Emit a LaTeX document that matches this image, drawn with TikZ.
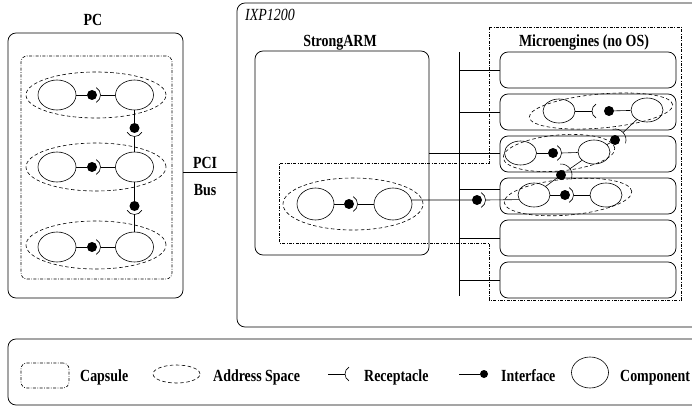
\documentclass[tikz,border=0pt]{standalone}
\usepackage{fontspec}
\setmainfont{Liberation Serif}[FakeStretch=0.82]
\usetikzlibrary{shapes.geometric,calc}
\newcommand\recarc[4]{%
  \draw[conn] ($(#1)+({#2-60}:#3)$) .. controls ($(#1)+({#2-60}:#3)+({#2+30}:#4)$) and ($(#1)+({#2+60}:#3)+({#2-30}:#4)$) .. ($(#1)+({#2+60}:#3)$);}
\begin{document}
\begin{tikzpicture}[x=1pt,y=-1pt,
  rbox/.style={draw, rounded corners=8pt, line width=0.75pt, inner sep=0},
  comp/.style={draw, ellipse, inner sep=0, line width=0.6pt, minimum width=38pt, minimum height=30pt},
  mcomp/.style={draw, ellipse, inner sep=0, line width=0.6pt, minimum width=32pt, minimum height=24pt},
  aspace/.style={draw, ellipse, inner sep=0, dash pattern=on 3.5pt off 2.5pt, line width=0.6pt},
  capsule/.style={draw, dash pattern=on 3pt off 1.5pt on 0.7pt off 1.5pt, line width=0.6pt},
  ball/.style={circle, fill, inner sep=0, minimum size=10pt},
  conn/.style={line width=0.6pt},
  lbl/.style={font=\fontsize{17}{20}\selectfont\bfseries, inner sep=0}]
\useasboundingbox (0,0) rectangle (692,409);
\clip (0,0) rectangle (692,409);

% ---------------- PC ----------------
\node[rbox, minimum width=175pt, minimum height=265pt] (pc) at (95.5,165.5) {};
\node[lbl, anchor=base] (pclbl) at (93,26) {PC};
\node[capsule, rounded corners=6pt, minimum width=151pt, minimum height=223pt, inner sep=0] (pccap) at (96.5,167.5) {};
\node[aspace, minimum width=140pt, minimum height=46pt] (pas1) at (96,95) {};
\node[aspace, minimum width=140pt, minimum height=48pt] (pas2) at (96,167) {};
\node[aspace, minimum width=140pt, minimum height=48pt] (pas3) at (96,245) {};
\node[comp] (c11) at (57,95) {};
\node[comp] (c12) at (134.5,95) {};
\node[comp] (c21) at (57,167) {};
\node[comp] (c22) at (134.5,167) {};
\node[comp] (c31) at (57,247) {};
\node[comp] (c32) at (134.5,247) {};
% row connections
\node[ball] (d1) at (92,95) {};
\draw[conn] (c11) -- (d1);
\recarc{d1}{0}{8.5}{6.55}
\coordinate (r1) at ($(d1)+(0:8.5)$);
\draw[conn] (r1) -- (c12);
\node[ball] (d2) at (92,167) {};
\draw[conn] (c21) -- (d2);
\recarc{d2}{0}{8.5}{6.55}
\coordinate (r2) at ($(d2)+(0:8.5)$);
\draw[conn] (r2) -- (c22);
\node[ball] (d3) at (92,247) {};
\draw[conn] (c31) -- (d3);
\recarc{d3}{0}{8.5}{6.55}
\coordinate (r3) at ($(d3)+(0:8.5)$);
\draw[conn] (r3) -- (c32);
% vertical connections
\node[ball] (dv1) at (134.5,128) {};
\draw[conn] (c12) -- (dv1);
\recarc{dv1}{90}{8.5}{6.55}
\coordinate (rv1) at ($(dv1)+(90:8.5)$);
\draw[conn] (rv1) -- (c22);
\node[ball] (dv2) at (134.5,206) {};
\draw[conn] (c22) -- (dv2);
\recarc{dv2}{90}{8.5}{6.55}
\coordinate (rv2) at ($(dv2)+(90:8.5)$);
\draw[conn] (rv2) -- (c32);

% ---------------- IXP1200 ----------------
\node[rbox, minimum width=500pt, minimum height=324pt] (ixp) at (487,165) {};
\node[font=\fontsize{17}{20}\selectfont\itshape, anchor=base west, inner sep=0] (ixplbl) at (245,21) {IXP1200};
% PCI bus
\coordinate (pcib) at ($(pc.east)+(0,6.5)$);
\draw[conn] (pcib) -- (pcib -| ixp.west);
\node[lbl, anchor=base] (pcilbl) at (205,168) {PCI};
\node[lbl, anchor=base] (buslbl) at (205,195) {Bus};

% capsule (microengines + part of StrongARM)
\draw[capsule] (489,27) -- (681,27) -- (681,300) -- (489,300) -- (489,243) -- (279,243) -- (279,163) -- (489,163) -- cycle;

% StrongARM
\node[rbox, minimum width=174pt, minimum height=204pt] (sa) at (342,153) {};
\node[lbl, anchor=base] (salbl) at (340,47) {StrongARM};
\node[aspace, minimum width=140pt, minimum height=52pt] (sas) at (353,204) {};
\node[comp, minimum width=37pt, minimum height=32pt] (sL) at (315.5,204) {};
\node[comp, minimum width=38pt, minimum height=32pt] (sR) at (393,204) {};
\node[ball] (ds1) at (349,204) {};
\draw[conn] (sL) -- (ds1);
\recarc{ds1}{0}{8.5}{6.55}
\coordinate (rs1) at ($(ds1)+(0:8.5)$);
\draw[conn] (rs1) -- (sR);

% Microengines
\node[lbl, anchor=base] (melbl) at (584,47) {Microengines (no OS)};
\node[rbox, minimum width=176pt, minimum height=36pt] (me1) at (588,70) {};
\node[rbox, minimum width=176pt, minimum height=36pt] (me2) at (588,112) {};
\node[rbox, minimum width=176pt, minimum height=36pt] (me3) at (588,154) {};
\node[rbox, minimum width=176pt, minimum height=36pt] (me4) at (588,196) {};
\node[rbox, minimum width=176pt, minimum height=36pt] (me5) at (588,238) {};
\node[rbox, minimum width=176pt, minimum height=36pt] (me6) at (588,280) {};

% bus
\coordinate (bustop) at (459,52);
\coordinate (busbot) at (459,296);
\draw[conn] (bustop) -- (busbot);
\draw[conn] (me1.west) -- (me1.west -| bustop);
\draw[conn] (me2.west) -- (me2.west -| bustop);
\draw[conn] (sa.east) -- (me3.west |- sa.east);
\coordinate (b4) at ($(me4.west)+(0,-7)$);
\draw[conn] (b4) -- (b4 -| bustop);
\draw[conn] (me5.west) -- (me5.west -| bustop);
\draw[conn] (me6.west) -- (me6.west -| bustop);

% microengine address spaces and components
\node[aspace, rotate=5, minimum width=144pt, minimum height=34pt] (mas2) at (601,111) {};
\node[aspace, rotate=5, minimum width=112pt, minimum height=36pt] (mas3) at (559,153) {};
\node[aspace, rotate=5, minimum width=128pt, minimum height=36pt] (mas4) at (568,197) {};
\node[mcomp] (m2L) at (559,111) {};
\node[mcomp] (m2R) at (647,110) {};
\node[mcomp] (m3L) at (520.5,153) {};
\node[mcomp] (m3R) at (594,152) {};
\node[mcomp] (m4L) at (534,195) {};
\node[mcomp] (m4R) at (606,195) {};

% row 2
\node[ball] (dm2) at (609,111) {};
\draw[conn] (m2R) -- (dm2);
\coordinate (cm2) at (600,111);
\recarc{cm2}{180}{8}{6.16}
\coordinate (rm2) at ($(cm2)+(180:8)$);
\draw[conn] (rm2) -- (m2L);
% row 3
\node[ball] (dm3) at (553,153) {};
\draw[conn] (m3L) -- (dm3);
\recarc{dm3}{0}{8.5}{6.55}
\coordinate (rm3) at ($(dm3)+(0:8.5)$);
\draw[conn] (rm3) -- (m3R);
% row 4
\node[ball] (dm4) at (565,195) {};
\draw[conn] (m4L) -- (dm4);
\recarc{dm4}{0}{8.5}{6.55}
\coordinate (rm4) at ($(dm4)+(0:8.5)$);
\draw[conn] (rm4) -- (m4R);
% cross 1 (m3R -> m2R)
\node[ball] (dx1) at (615,140) {};
\draw[conn] (m3R) -- (dx1);
\recarc{dx1}{-43}{11}{8.47}
\coordinate (rx1) at ($(dx1)+(-43:11)$);
\draw[conn] (rx1) -- (m2R);
% cross 2 (m4L -> m3R)
\node[ball] (dx2) at (561,175) {};
\draw[conn] (m4L) -- (dx2);
\recarc{dx2}{-35}{11}{8.47}
\coordinate (rx2) at ($(dx2)+(-35:11)$);
\draw[conn] (rx2) -- (m3R);
% StrongARM -> microengine 4
\node[ball] (ds2) at (477,200) {};
\draw[conn] (sR.12) -- (ds2);
\recarc{ds2}{0}{8.5}{6.55}
\coordinate (rs2) at ($(ds2)+(0:8.5)$);
\draw[conn] (rs2) -- (m4L.197);

% ---------------- Legend ----------------
\node[rbox, minimum width=732pt, minimum height=66pt] (leg) at (374,372) {};
\node[capsule, rounded corners=6pt, minimum width=48pt, minimum height=25pt, inner sep=0] (lcap) at (45,375.5) {};
\node[lbl, anchor=base west] (lcapt) at (80,381) {Capsule};
\node[aspace, minimum width=47pt, minimum height=18pt] (las) at (176.5,374) {};
\node[lbl, anchor=base west] (last) at (213,381) {Address Space};
\coordinate (lr0) at (328,374);
\coordinate (lrc) at (353,374);
\recarc{lrc}{180}{8}{6.16}
\coordinate (lra) at ($(lrc)+(180:8)$);
\draw[conn] (lr0) -- (lra);
\node[lbl, anchor=base west] (lrt) at (364,381) {Receptacle};
\coordinate (li0) at (459,374);
\node[ball, minimum size=8pt] (li) at (484,374) {};
\draw[conn] (li0) -- (li);
\node[lbl, anchor=base west] (lit) at (501,381) {Interface};
\node[comp, minimum width=37pt, minimum height=31pt] (lc) at (590,372.5) {};
\node[lbl, anchor=base west] (lct) at (620,381) {Component};
\end{tikzpicture}
\end{document}
